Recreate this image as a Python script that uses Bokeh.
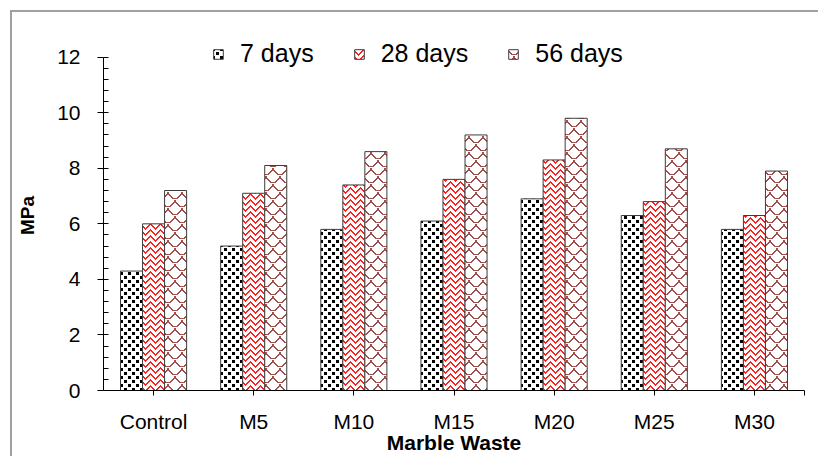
import base64
import struct
import zlib

from bokeh.core.properties import value
from bokeh.embed import file_html
from bokeh.models import (ColumnDataSource, FixedTicker, ImageURLTexture,
                          Legend, LegendItem, Range1d)
from bokeh.plotting import figure
from bokeh.resources import INLINE
from bokeh.transform import dodge

# ---- data -----------------------------------------------------------------
categories = ["Control", "M5", "M10", "M15", "M20", "M25", "M30"]
series = ["7 days", "28 days", "56 days"]
days_7 = [4.3, 5.2, 5.8, 6.1, 6.9, 6.3, 5.8]
days_28 = [6.0, 7.1, 7.4, 7.6, 8.3, 6.8, 6.3]
days_56 = [7.2, 8.1, 8.6, 9.2, 9.8, 8.7, 7.9]
y_ticks = [0, 2, 4, 6, 8, 10, 12]

FONT = "Liberation Sans"


# ---- small PNG tiles used as fill textures ----------------------------------
def png_url(width, height, ink, is_ink):
    raw = bytearray()
    for y in range(height):
        raw.append(0)
        for x in range(width):
            raw.extend(ink if is_ink(x, y) else (255, 255, 255))

    def chunk(tag, data):
        body = tag + data
        return struct.pack(">I", len(data)) + body + struct.pack(">I", zlib.crc32(body) & 0xFFFFFFFF)

    png = (b"\x89PNG\r\n\x1a\n"
           + chunk(b"IHDR", struct.pack(">IIBBBBB", width, height, 8, 2, 0, 0, 0))
           + chunk(b"IDAT", zlib.compress(bytes(raw)))
           + chunk(b"IEND", b""))
    return "data:image/png;base64," + base64.b64encode(png).decode()


def staggered_dots(x, y):
    return (x % 8 < 3 and y % 8 < 3) or ((x - 4) % 8 < 3 and (y - 4) % 8 < 3)


def chevrons(x, y):
    return (y + abs(x - 5)) % 6 in (0, 1)


def shingle_set(w=14, h=16):
    pts = set()
    half = h // 2
    for r in range(2):
        ox, oy = (w // 2) * r, half * r

        def yc(xx):
            return oy + 6 * (1 - ((xx - w / 2) / (w / 2)) ** 2)

        for xx in range(w):
            a, b = yc(xx), yc(xx + 1)
            for y in range(int(round(min(a, b))), int(round(max(a, b))) + 1):
                pts.add(((xx + ox) % w, y % h))
    return pts


_shingle = shingle_set()

textures = {
    "dots": ImageURLTexture(url=png_url(8, 8, (0, 0, 0), staggered_dots)),
    "chevron": ImageURLTexture(url=png_url(10, 6, (255, 30, 30), chevrons)),
    "shingle": ImageURLTexture(url=png_url(14, 16, (160, 80, 76), lambda x, y: (x, y) in _shingle)),
}

# ---- figure ---------------------------------------------------------------
# a little headroom above 12 keeps the legend inside the plot frame
p = figure(width=818, height=456,
           x_range=Range1d(0, len(categories)), y_range=Range1d(0, 12.6),
           output_backend="svg", toolbar_location=None,
           min_border_left=103, min_border_right=14,
           min_border_top=40, min_border_bottom=66,
           background_fill_color="white", border_fill_alpha=0,
           outline_line_color=None)
p.grid.visible = False

# thin grey chart-object frame along the top and left edges
p.styles = {
    "background": ("linear-gradient(#a0a0a0, #a0a0a0) 10px 10px / 2px 100% no-repeat, "
                   "linear-gradient(#a0a0a0, #a0a0a0) 10px 10px / 100% 2px no-repeat, white"),
}

source = ColumnDataSource(dict(
    pos=[i + 0.5 for i in range(len(categories))],
    d7=days_7, d28=days_28, d56=days_56,
))

bar_w = 0.22
renderers = []
for col, offset, key in [("d7", -bar_w, "dots"), ("d28", 0.0, "chevron"), ("d56", bar_w, "shingle")]:
    r = p.vbar(x=dodge("pos", offset), top=col, width=bar_w, source=source,
               fill_color="white", line_color="#3c3c3c", line_width=1,
               hatch_pattern=value(key), hatch_extra={key: textures[key]})
    renderers.append(r)

# ---- axes -----------------------------------------------------------------
xa = p.xaxis[0]
xa.ticker = FixedTicker(ticks=[i + 0.5 for i in range(len(categories))] + [len(categories)])
overrides = {i + 0.5: c for i, c in enumerate(categories)}
overrides[len(categories)] = ""
xa.major_label_overrides = overrides
xa.axis_label = "Marble Waste"
xa.axis_line_color = "black"
xa.major_tick_line_color = "black"
xa.major_tick_in = 0
xa.major_tick_out = 5
xa.minor_tick_line_color = None
xa.major_label_text_font = FONT
xa.major_label_text_font_size = "21px"
xa.major_label_text_color = "black"
xa.major_label_standoff = 14
xa.axis_label_text_font = FONT
xa.axis_label_text_font_size = "21px"
xa.axis_label_text_font_style = "bold"
xa.axis_label_text_color = "black"
xa.axis_label_standoff = -5

ya = p.yaxis[0]
ya.bounds = (0, 12)
ya.ticker = FixedTicker(ticks=y_ticks, minor_ticks=[k * 0.4 for k in range(31)])
ya.axis_label = "MPa"
ya.axis_line_color = "black"
ya.major_tick_line_color = "black"
ya.major_tick_in = 0
ya.major_tick_out = 6
ya.minor_tick_line_color = "black"
ya.minor_tick_in = 5
ya.minor_tick_out = 0
ya.major_label_text_font = FONT
ya.major_label_text_font_size = "21px"
ya.major_label_text_color = "black"
ya.major_label_standoff = 17
ya.axis_label_text_font = FONT
ya.axis_label_text_font_size = "19px"
ya.axis_label_text_font_style = "bold"
ya.axis_label_text_color = "black"
ya.axis_label_standoff = 16

# ---- legend ---------------------------------------------------------------
legend = Legend(
    items=[LegendItem(label=s, renderers=[r]) for s, r in zip(series, renderers)],
    orientation="horizontal", location=(109, 322),
    glyph_width=12, glyph_height=12, label_standoff=16, spacing=39,
    padding=0, margin=0, border_line_color=None, background_fill_alpha=0,
    label_text_font=FONT, label_text_font_size="25px", label_text_color="black",
)
p.add_layout(legend)

open("out.html", "w").write(file_html(p, INLINE))
